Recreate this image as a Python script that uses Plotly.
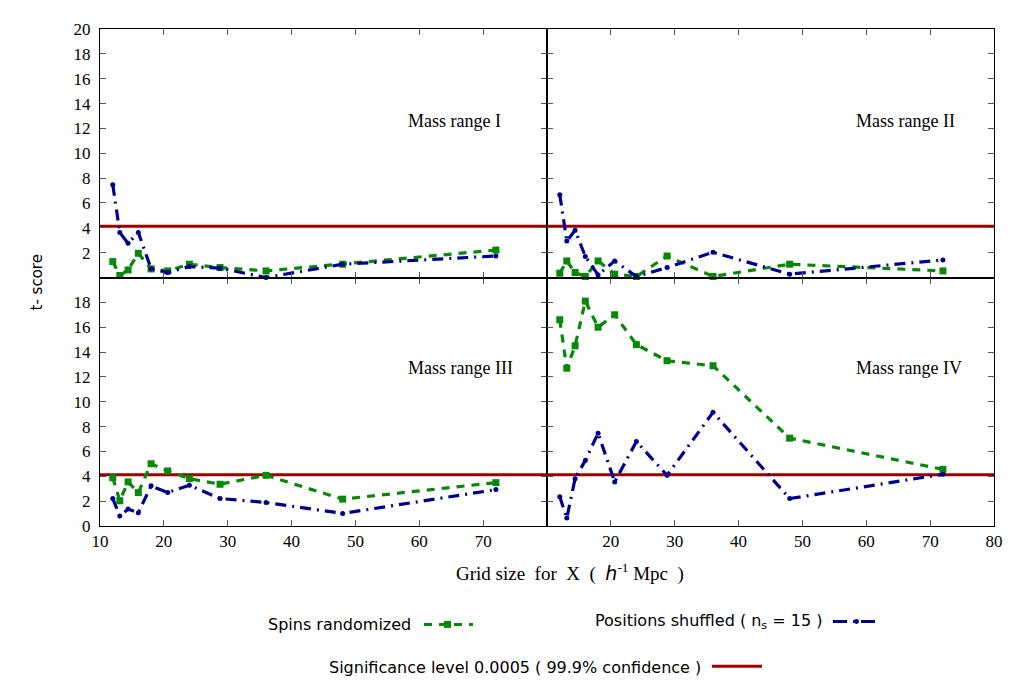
import plotly.graph_objects as go
from plotly.subplots import make_subplots

# ---------------- data ----------------
grid_size = [12.0, 13.1, 14.4, 16.0, 18.0, 20.6, 24.0, 28.8, 36.0, 48.0, 72.0]

spins_I   = [1.28, 0.16, 0.61, 1.95, 0.69, 0.53, 1.07, 0.80, 0.53, 1.07, 2.21]
pos_I     = [7.46, 3.63, 2.75, 3.63, 0.70, 0.40, 0.88, 0.75, 0.00, 1.07, 1.73]

spins_II  = [0.35, 1.33, 0.40, 0.08, 1.33, 0.27, 0.08, 1.73, 0.08, 1.07, 0.53]
pos_II    = [6.67, 2.93, 3.81, 1.70, 0.21, 1.33, 0.08, 0.80, 2.03, 0.27, 1.41]

spins_III = [3.89, 2.03, 3.55, 2.69, 5.01, 4.43, 3.81, 3.36, 4.08, 2.16, 3.49]
pos_III   = [2.21, 0.80, 1.36, 1.07, 3.23, 2.69, 3.28, 2.21, 1.89, 1.01, 2.93]

spins_IV  = [16.6, 12.7, 14.5, 18.1, 16.0, 17.0, 14.6, 13.3, 12.9, 7.07, 4.56]
pos_IV    = [2.35, 0.64, 3.81, 5.28, 7.47, 3.55, 6.80, 4.08, 9.15, 2.21, 4.16]

significance = 4.13
x_span = [10, 80]

panel_names = ["Mass range I", "Mass range II", "Mass range III", "Mass range IV"]
legend_labels = ["Spins randomized", "Positions shuffled ( n<sub>s</sub> = 15 )",
                 "Significance level 0.0005 ( 99.9% confidence )"]

# ---------------- styles ----------------
GREEN = "#078807"
BLUE = "#00008f"
RED = "#a00000"
SERIF = "Liberation Serif"
SANS = "DejaVu Sans"

fig = make_subplots(rows=2, cols=2, horizontal_spacing=0, vertical_spacing=0)

panels = [
    (1, 1, spins_I, pos_I),
    (1, 2, spins_II, pos_II),
    (2, 1, spins_III, pos_III),
    (2, 2, spins_IV, pos_IV),
]

for r, c, sp, ps in panels:
    fig.add_trace(go.Scatter(x=x_span, y=[significance, significance], mode="lines",
                             line=dict(color=RED, width=3), showlegend=False,
                             hoverinfo="skip"), row=r, col=c)
    fig.add_trace(go.Scatter(x=grid_size, y=sp, mode="lines+markers",
                             line=dict(color=GREEN, width=3.2, dash="8px,7px"),
                             marker=dict(symbol="square", size=7, color=GREEN),
                             showlegend=False, cliponaxis=False), row=r, col=c)
    fig.add_trace(go.Scatter(x=grid_size, y=ps, mode="lines+markers",
                             line=dict(color=BLUE, width=3.2, dash="11px,6px,2px,6px"),
                             marker=dict(symbol="circle", size=5, color=BLUE),
                             showlegend=False, cliponaxis=False), row=r, col=c)

axis_common = dict(showline=True, linecolor="black", linewidth=1, mirror="ticks",
                   ticks="inside", ticklen=6, tickcolor="#555555", tickwidth=1,
                   showgrid=False, zeroline=False,
                   tickfont=dict(family=SERIF, size=17, color="black"))

# x axes
fig.update_xaxes(range=[10, 80], **axis_common)
fig.update_xaxes(tickvals=[20, 30, 40, 50, 60, 70], showticklabels=False, row=1, col=1)
fig.update_xaxes(tickvals=[20, 30, 40, 50, 60, 70], showticklabels=False, row=1, col=2)
fig.update_xaxes(tickvals=[10, 20, 30, 40, 50, 60, 70], showticklabels=True, row=2, col=1)
fig.update_xaxes(tickvals=[20, 30, 40, 50, 60, 70, 80], showticklabels=True, row=2, col=2)

# y axes
fig.update_yaxes(range=[0, 20], **axis_common)
fig.update_yaxes(tickvals=list(range(2, 21, 2)), showticklabels=True,
                 ticklabelstandoff=5, row=1, col=1)
fig.update_yaxes(tickvals=list(range(0, 19, 2)), showticklabels=True,
                 ticklabelstandoff=5, row=2, col=1)
fig.update_yaxes(tickvals=list(range(2, 20, 2)), showticklabels=False, row=1, col=2)
fig.update_yaxes(tickvals=list(range(2, 20, 2)), showticklabels=False, row=2, col=2)

# target screen geometry of the plotting area (page has an 8px body offset)
W, H = 1027, 699
OFF = 8
PX0, PX1, PY0, PY1 = 100, 994, 26, 526
L = PX0 - OFF
T = PY0 - OFF
R = W - (PX1 - OFF)
B = H - (PY1 - OFF)


def px(xp):
    return (xp - PX0) / (PX1 - PX0)


def py(yp):
    return (PY1 - yp) / (PY1 - PY0)


annotations = []
for name, (xp, yp) in zip(panel_names, [(406, 119), (854, 119), (406, 367), (854, 367)]):
    annotations.append(dict(text=name, x=px(xp), y=py(yp), xref="paper", yref="paper",
                            xanchor="left", yanchor="middle", showarrow=False,
                            font=dict(family=SERIF, size=18, color="black")))

annotations.append(dict(text="t- score", x=px(37), y=py(281), xref="paper", yref="paper",
                        textangle=-90, showarrow=False, xanchor="center", yanchor="middle",
                        font=dict(family=SANS, size=15, color="black")))
annotations.append(dict(
    text="Grid size&nbsp; for&nbsp; X&nbsp; (&nbsp; <span style='font-family:DejaVu Sans'><i>h</i></span><sup>-1</sup> Mpc&nbsp; )",
    x=px(570), y=py(573), xref="paper", yref="paper", showarrow=False,
    xanchor="center", yanchor="middle",
    font=dict(family=SERIF, size=19, color="black")))

legend_pos = [(413, 625), (824, 622), (703, 668)]
for lab, (xp, yp) in zip(legend_labels, legend_pos):
    annotations.append(dict(text=lab, x=px(xp), y=py(yp), xref="paper", yref="paper",
                            xanchor="right", yanchor="middle", showarrow=False,
                            font=dict(family=SANS, size=16, color="black")))

shapes = []
# legend samples
shapes.append(dict(type="line", xref="paper", yref="paper", x0=px(424), x1=px(473),
                   y0=py(625), y1=py(625), line=dict(color=GREEN, width=3, dash="8px,7px")))
shapes.append(dict(type="rect", xref="paper", yref="paper", x0=px(444), x1=px(451),
                   y0=py(628.5), y1=py(621.5), fillcolor=GREEN, line=dict(width=0)))
shapes.append(dict(type="line", xref="paper", yref="paper", x0=px(833), x1=px(880),
                   y0=py(622), y1=py(622), line=dict(color=BLUE, width=3, dash="14px,6px,2px,6px")))
shapes.append(dict(type="circle", xref="paper", yref="paper", x0=px(854), x1=px(859),
                   y0=py(624.5), y1=py(619.5), fillcolor=BLUE, line=dict(width=0)))
shapes.append(dict(type="line", xref="paper", yref="paper", x0=px(712), x1=px(762),
                   y0=py(667), y1=py(667), line=dict(color=RED, width=3)))

fig.update_layout(width=W, height=H, margin=dict(l=L, r=R, t=T, b=B),
                  paper_bgcolor="white", plot_bgcolor="white",
                  showlegend=False, annotations=annotations, shapes=shapes)

fig.write_html("out.html")
